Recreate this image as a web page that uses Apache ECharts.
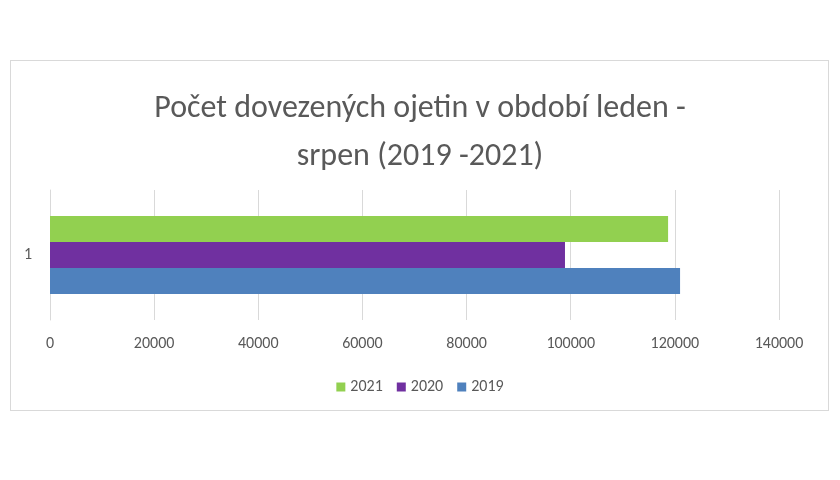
<!DOCTYPE html>
<html><head><meta charset="utf-8">
<script src="https://cdn.jsdelivr.net/npm/echarts@6/dist/echarts.min.js"></script>
<style>body{margin:0;background:#fff}#c{width:840px;height:480px}#b{position:absolute;left:10px;top:60px;width:819px;height:351px;border:1px solid #d9d9d9;box-sizing:border-box}</style>
</head><body><div id="b"></div><div id="c" style="position:absolute;left:0;top:0"></div>
<script>
const categories = ['1'];
const seriesNames = ['2021', '2020', '2019'];
const values2021 = [118700];
const values2020 = [98900];
const values2019 = [121000];
const colors = ['#92d050', '#7030a0', '#4f81bd'];
const chart = echarts.init(document.getElementById('c'));
const font = 'Calibri, Carlito, "Open Sans", sans-serif';
chart.setOption({
  title: {text: 'Počet dovezených ojetin v období leden -\nsrpen (2019 -2021)', left: 'center', top: 80,
    textStyle: {fontFamily: font, fontSize: 32, fontWeight: 'normal', color: '#595959', lineHeight: 48}},
  legend: {data: ['2021', '2020', '2019'], top: 374, left: 'center', icon: 'rect', itemWidth: 9, itemHeight: 9, itemGap: 14,
    textStyle: {fontFamily: font, fontSize: 16, color: '#595959'}},
  grid: {left: 50, right: 61, top: 190, bottom: 160},
  xAxis: {type: 'value', min: 0, max: 140000, interval: 20000,
    axisLabel: {fontFamily: font, fontSize: 16, color: '#595959', margin: 16, formatter: v => String(v)},
    splitLine: {lineStyle: {color: '#d9d9d9'}}, axisLine: {show: false}, axisTick: {show: false}},
  yAxis: {type: 'category', data: categories,
    axisLabel: {fontFamily: font, fontSize: 16, color: '#595959', margin: 18},
    axisLine: {lineStyle: {color: '#d9d9d9'}}, axisTick: {show: false}},
  series: [values2021, values2020, values2019].map((d, i) => ({
    name: seriesNames[i], type: 'bar', data: d, barGap: 0, barCategoryGap: '40%',
    itemStyle: {color: colors[i]}
  }))
});
</script></body></html>
